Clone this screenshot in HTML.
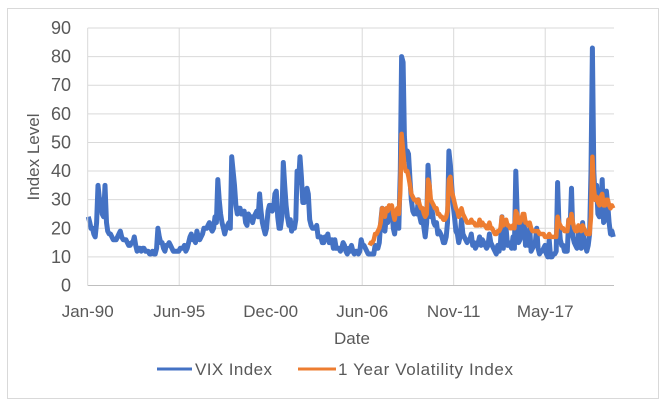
<!DOCTYPE html>
<html><head><meta charset="utf-8"><style>
html,body{margin:0;padding:0;background:#fff;width:665px;height:407px;overflow:hidden}
svg{display:block;font-family:"Liberation Sans",sans-serif}
</style></head><body>
<svg id="chart" width="665" height="407" viewBox="0 0 665 407" xmlns="http://www.w3.org/2000/svg">
<rect x="7.5" y="8.5" width="651" height="390" fill="#fff" stroke="#d9d9d9"/>
<g id="grid"></g>
<g id="series"></g>
<g id="axes"></g>
<text transform="translate(39,157) rotate(-90)" text-anchor="middle" font-size="17" fill="#595959">Index Level</text>
<text x="352" y="344" text-anchor="middle" font-size="17" fill="#595959">Date</text>
<g>
<g>
<line x1="157" y1="369" x2="192" y2="369" stroke="#4472C4" stroke-width="3"/>
<text x="195" y="375" font-size="17" fill="#595959" textLength="77">VIX Index</text></g>
<g>
<line x1="298" y1="369" x2="336" y2="369" stroke="#ED7D31" stroke-width="3"/>
<text x="338" y="375" font-size="17" fill="#595959" textLength="175">1 Year Volatility Index</text></g>
</g>
</svg>
<script>
const yTicks=[0,10,20,30,40,50,60,70,80,90];
const xTickLabels=["Jan-90","Jun-95","Dec-00","Jun-06","Nov-11","May-17"];
const vixStart=[1990,0];
const vixValues=[
24,22,20,20,18,17,22,35,30,30,25,24,
35,22,19,18,18,17,16,16,16,17,18,19,
17,16,16,16,15,14,14,15,15,17,14,12,
13,13,12,13,13,12,12,12,11,11,12,11,
11,13,20,17,15,15,13,12,14,14,15,14,
13,12,12,12,12,12,13,13,13,14,12,13,
15,17,18,16,16,15,19,17,16,17,18,20,
20,20,21,22,20,19,20,24,22,37,30,25,
22,20,18,20,21,22,20,45,40,35,28,25,
27,27,25,25,26,22,21,25,24,24,22,24,
25,26,24,32,26,22,20,18,20,26,28,28,
26,27,32,33,24,20,20,24,43,35,28,24,
21,23,19,21,20,23,40,36,45,38,29,29,
33,34,32,23,21,20,20,20,21,17,17,17,
15,15,17,16,18,15,15,16,13,16,13,13,
13,12,13,15,14,12,11,13,12,14,12,11,
12,12,11,12,16,14,14,13,12,11,11,11,
11,11,14,13,13,15,22,27,20,19,24,22,
26,25,27,20,18,23,24,20,40,80,78,52,
44,47,46,37,30,26,25,26,25,30,24,22,
24,20,17,22,42,34,24,26,22,21,22,18,
19,18,17,15,15,17,22,47,42,35,28,24,
19,18,15,17,23,18,17,16,15,16,16,18,
14,15,13,14,15,17,14,16,15,14,13,14,
18,15,14,13,12,11,14,12,15,24,13,20,
20,14,15,14,13,17,13,40,25,15,16,18,
24,22,14,15,14,20,12,13,14,15,20,13,
11,12,12,13,14,11,10,16,10,10,11,11,
12,36,22,16,14,14,12,12,12,23,20,34,
17,15,14,13,18,15,13,22,16,14,12,14,
18,40,83,40,30,35,25,24,28,37,22,23,
33,28,22,18,19,17];
const volStart=[2006,10];
const volValues=[
14,15,
15,16,18,18,19,20,22,27,25,24,27,26,
28,27,28,25,23,26,27,25,33,53,47,42,
40,40,38,35,32,31,30,30,29,30,28,27,
27,25,24,25,37,35,30,29,28,27,27,25,
25,24,24,23,23,24,26,37,38,33,31,29,
27,26,24,25,27,25,24,23,22,22,22,23,
22,22,21,21,21,23,21,22,21,21,20,20,
22,20,20,19,18,18,19,19,20,24,21,22,
23,21,21,20,20,21,20,26,25,22,22,23,
25,25,22,22,21,22,20,19,19,19,19,19,
18,18,18,18,17,17,17,18,17,17,17,17,
17,24,22,21,20,20,19,19,19,23,22,25,
22,20,19,19,21,20,19,21,20,19,18,18,
18,24,45,34,30,31,29,28,31,32,28,28,
30,30,28,27,28,27];

const NS="http://www.w3.org/2000/svg";
const X0=87.7,X1=614,Y0=285.5,Y90=28;
const origin=Date.UTC(1990,0,1);
function xDays(d){return X0+d*91.5/2000;}
function xMonth(y,m){return xDays((Date.UTC(y,m,15)-origin)/864e5);}
function yScale(v){return Y0-(v/90)*(Y0-Y90);}
function el(t,a,p){const e=document.createElementNS(NS,t);for(const k in a)e.setAttribute(k,a[k]);p.appendChild(e);return e;}
const grid=document.getElementById('grid'),axes=document.getElementById('axes'),ser=document.getElementById('series');
yTicks.forEach(v=>{
  const y=yScale(v);
  if(v>0){const l=el('line',{x1:X0,x2:X1,y1:y,y2:y,stroke:'#d9d9d9','stroke-width':1},grid);
  
  }
  const t=el('text',{x:71,y:y+6,'text-anchor':'end','font-size':18,fill:'#595959'},axes);
  t.textContent=v;
  
  
});
xTickLabels.forEach((s,i)=>{
  const x=xDays(i*2000);
  if(i>0){const l=el('line',{x1:x,x2:x,y1:Y90,y2:Y0,stroke:'#d9d9d9','stroke-width':1},grid);
  
  }
  const t=el('text',{x:x,y:317,'text-anchor':'middle','font-size':17,fill:'#595959'},axes);
  t.textContent=s;
  
  
});
const ax=el('line',{x1:X0,x2:X1,y1:Y0,y2:Y0,stroke:'#bfbfbf','stroke-width':1},axes);


const ay=el('line',{x1:X0,x2:X0,y1:Y90,y2:Y0,stroke:'#d9d9d9','stroke-width':1},axes);


function pts(start,vals){return vals.map((v,i)=>{const m=start[1]+i;return xMonth(start[0]+Math.floor(m/12),m%12).toFixed(1)+','+yScale(v).toFixed(1);}).join(' ');}
const vix=el('polyline',{points:pts(vixStart,vixValues),fill:'none',stroke:'#4472C4','stroke-width':5,'stroke-linejoin':'round'},ser);


const vol=el('polyline',{points:pts(volStart,volValues),fill:'none',stroke:'#ED7D31','stroke-width':4.5,'stroke-linejoin':'round'},ser);


</script>
</body></html>
